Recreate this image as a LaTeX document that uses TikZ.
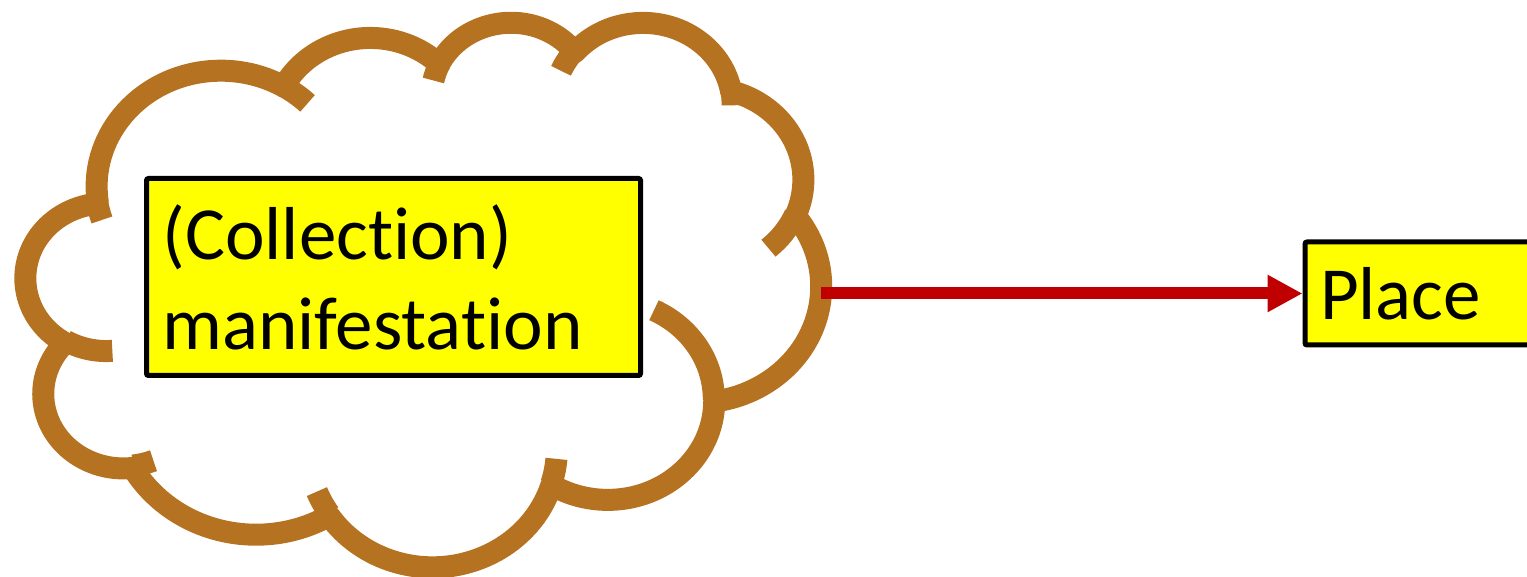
\documentclass[tikz,border=0pt]{standalone}
\usepackage{fontspec}
\setmainfont{Carlito}[Ligatures=NoCommon]
\usepackage{xcolor}
\usepackage{tikz}
\usetikzlibrary{arrows.meta,positioning,calc}

\definecolor{cloudbrown}{RGB}{181,114,33}
\definecolor{linkred}{RGB}{192,0,0}
\definecolor{boxyellow}{RGB}{255,255,0}

\begin{document}
\begin{tikzpicture}[
    x=0.5pt, y=-0.5pt,
    declare function={vis(\a,\b,\t)=atan2(\a*sin(\t),\b*cos(\t));},
    cloudline/.style={draw=cloudbrown, line width=11pt, line join=round},
    entity/.style={draw, fill=boxyellow, line width=2.5pt, rounded corners=1pt,
      font=\fontsize{37.5pt}{45pt}\selectfont, align=left},
    link/.style={draw=linkred, line width=6pt, -{Triangle[length=17.5pt,width=17.5pt]}},
  ]
  \useasboundingbox (0,0) rectangle (1527,577);
  \begin{scope}[shift={(26,21)}, xscale=18.4, yscale=12.6]
    \draw[cloudline] (3.9,14.37)
      foreach \rx/\ry/\st/\sw in {6.753/9.190/-190.4875/123.7805,
        5.333/7.267/-144.1024/89.9452, 4.365/5.945/-145.8079/99.7230,
        4.857/6.595/-130.9861/117.2417, 5.333/7.273/-78.7089/109.0269,
        6.775/9.220/-46.2673/130.2690, 5.785/7.867/0.6250/114.0333,
        6.752/9.215/22.4516/115.1726, 7.720/10.543/66.2426/75.7110,
        4.360/5.918/-274.9421/146.7356, 4.345/5.945/-246.8285/152.5189}
      { arc[x radius=\rx, y radius=\ry, start angle={vis(\rx,\ry,\st)},
          delta angle={mod(vis(\rx,\ry,\st+\sw)-vis(\rx,\ry,\st)+720,360)}] }
      -- cycle;
    \draw[cloudline]
      foreach \px/\py/\rx/\ry/\st/\sw in {4.693/26.177/4.345/5.945/86.7420/26.4295,
        6.928/34.899/4.360/5.918/73.6105/11.4475,
        16.478/39.090/6.752/9.215/137.6242/14.0811,
        28.827/34.751/6.752/9.215/6.4533/15.9984,
        34.129/22.954/5.785/7.867/-70.2924/70.9174,
        41.798/15.354/5.333/7.273/30.3180/27.7515,
        38.324/5.426/4.857/6.595/-13.7443/14.8589,
        29.078/3.952/4.857/6.595/-149.1815/18.1954,
        22.141/4.720/4.365/5.945/-163.4943/17.6864,
        14.000/5.192/6.753/9.190/-66.7070/12.3194,
        4.127/15.789/6.753/9.190/155.6384/16.9735}
      { (\px,\py) arc[x radius=\rx, y radius=\ry, start angle={vis(\rx,\ry,\st)},
          delta angle={mod(vis(\rx,\ry,\st+\sw)-vis(\rx,\ry,\st)+720,360)}] };
  \end{scope}
  \node[entity, text width=231pt, minimum height=98.5pt, inner xsep=8pt]
    (coll) at (393.5,277) {(Collection)\\manifestation};
  \node[entity, anchor=west, text width=150pt, minimum height=51.5pt, inner xsep=7.5pt]
    (place) at (1302.5,293.5) {Place};
  \coordinate (cloudR) at (821,293.5);
  \draw[link] (cloudR) -- (place);
\end{tikzpicture}
\end{document}
